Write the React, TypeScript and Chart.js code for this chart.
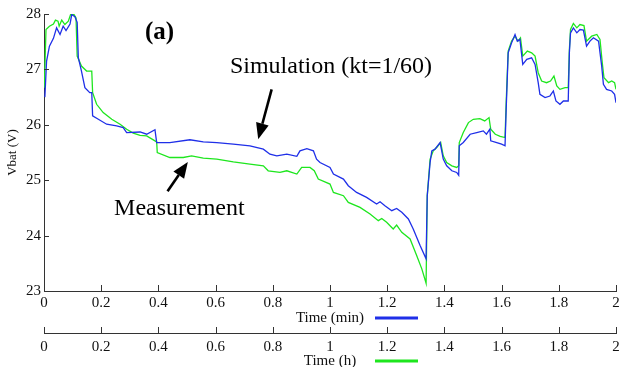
import { useEffect, useRef } from 'react';
import { Chart, registerables } from 'chart.js';

Chart.register(...registerables);

// Simulation (kt=1/60) — plotted against Time (min)
const simTime = [
  0.003, 0.009, 0.019, 0.033, 0.044, 0.056, 0.067, 0.077, 0.091, 0.097, 0.108, 0.116, 0.12, 0.131, 0.143, 0.16,
  0.167, 0.17, 0.19, 0.219, 0.254, 0.277, 0.289, 0.336, 0.359, 0.388, 0.394, 0.44, 0.51, 0.557, 0.604, 0.662,
  0.72, 0.767, 0.79, 0.814, 0.849, 0.884, 0.895, 0.919, 0.942, 0.953, 0.965, 1.0, 1.012, 1.047, 1.064, 1.093,
  1.128, 1.163, 1.175, 1.192, 1.216, 1.233, 1.251, 1.274, 1.291, 1.315, 1.336, 1.34, 1.35, 1.356, 1.367, 1.385,
  1.396, 1.408, 1.426, 1.443, 1.45, 1.452, 1.466, 1.49, 1.513, 1.536, 1.547, 1.559, 1.562, 1.583, 1.6, 1.612,
  1.616, 1.623, 1.635, 1.647, 1.655, 1.664, 1.674, 1.688, 1.705, 1.717, 1.728, 1.734, 1.752, 1.769, 1.781, 1.79,
  1.804, 1.816, 1.833, 1.837, 1.841, 1.851, 1.863, 1.874, 1.886, 1.897, 1.909, 1.921, 1.939, 1.95, 1.956, 1.967,
  1.985, 1.995, 2.0,
];
const simVolt = [
  26.5, 27.15, 27.42, 27.56, 27.75, 27.63, 27.78, 27.7, 27.82, 27.99, 27.95, 27.85, 27.21, 26.97, 26.67, 26.58,
  26.58, 26.16, 26.1, 26.01, 25.98, 25.95, 25.86, 25.87, 25.83, 25.91, 25.68, 25.68, 25.73, 25.69, 25.68, 25.65,
  25.62, 25.56, 25.47, 25.44, 25.47, 25.43, 25.53, 25.57, 25.53, 25.38, 25.32, 25.23, 25.11, 25.02, 24.9, 24.78,
  24.69, 24.57, 24.61, 24.54, 24.45, 24.49, 24.42, 24.3, 24.12, 23.82, 23.58, 24.72, 25.32, 25.53, 25.56, 25.68,
  25.38, 25.26, 25.17, 25.14, 25.09, 25.62, 25.68, 25.83, 25.86, 25.89, 25.83, 25.92, 25.71, 25.68, 25.65, 25.62,
  26.28, 27.3, 27.48, 27.63, 27.51, 27.54, 27.09, 27.18, 27.21, 27.09, 26.76, 26.55, 26.49, 26.52, 26.61, 26.43,
  26.37, 26.43, 26.43, 27.3, 27.66, 27.75, 27.66, 27.72, 27.71, 27.42, 27.51, 27.57, 27.51, 27.06, 26.73, 26.64,
  26.61, 26.55, 26.4,
];

// Measurement — plotted against Time (h)
const measTime = [
  0.001, 0.007, 0.019, 0.033, 0.04, 0.049, 0.053, 0.062, 0.073, 0.085, 0.093, 0.105, 0.112, 0.116, 0.131, 0.149,
  0.167, 0.17, 0.184, 0.207, 0.237, 0.266, 0.289, 0.312, 0.336, 0.359, 0.388, 0.394, 0.396, 0.44, 0.487, 0.516,
  0.557, 0.604, 0.662, 0.72, 0.767, 0.784, 0.825, 0.849, 0.884, 0.901, 0.93, 0.945, 0.959, 1.0, 1.012, 1.047,
  1.064, 1.105, 1.14, 1.169, 1.181, 1.198, 1.221, 1.233, 1.251, 1.28, 1.303, 1.321, 1.336, 1.34, 1.35, 1.361,
  1.373, 1.387, 1.396, 1.408, 1.426, 1.443, 1.45, 1.452, 1.466, 1.484, 1.501, 1.524, 1.541, 1.556, 1.562, 1.578,
  1.595, 1.612, 1.616, 1.623, 1.635, 1.647, 1.657, 1.666, 1.674, 1.69, 1.705, 1.717, 1.728, 1.74, 1.757, 1.771,
  1.783, 1.793, 1.804, 1.822, 1.833, 1.837, 1.841, 1.851, 1.863, 1.874, 1.888, 1.897, 1.915, 1.933, 1.944, 1.952,
  1.958, 1.974, 1.985, 1.995, 2.0,
];
const measVolt = [
  26.67, 27.72, 27.78, 27.82, 27.89, 27.87, 27.78, 27.89, 27.81, 27.87, 27.99, 27.99, 27.93, 27.24, 27.06, 26.97,
  26.97, 26.58, 26.37, 26.22, 26.1, 26.01, 25.92, 25.85, 25.81, 25.8, 25.71, 25.69, 25.5, 25.41, 25.41, 25.44,
  25.4, 25.38, 25.33, 25.29, 25.26, 25.17, 25.14, 25.17, 25.11, 25.23, 25.23, 25.17, 25.02, 24.93, 24.78, 24.72,
  24.6, 24.51, 24.39, 24.27, 24.31, 24.24, 24.12, 24.19, 24.06, 23.94, 23.64, 23.4, 23.14, 24.72, 25.38, 25.53,
  25.59, 25.68, 25.44, 25.32, 25.26, 25.23, 25.26, 25.68, 25.86, 26.04, 26.1, 26.11, 26.07, 26.13, 25.92, 25.83,
  25.79, 25.77, 26.4, 27.33, 27.51, 27.6, 27.51, 27.57, 27.24, 27.33, 27.3, 27.24, 26.94, 26.79, 26.76, 26.79,
  26.88, 26.7, 26.64, 26.67, 26.67, 27.36, 27.72, 27.83, 27.75, 27.81, 27.79, 27.51, 27.6, 27.63, 27.54, 27.12,
  26.85, 26.76, 26.79, 26.76, 26.64,
];

const xRange = [0, 2];
const xStep = 0.2;
const yRange = [23, 28];
const yStep = 1;
const xTitleMin = 'Time (min)';
const xTitleHour = 'Time (h)';
const yTitle = 'Vbat (V)';

// annotations in data coordinates [time, volt]
const panelLabel = { text: '(a)', at: [0.353, 27.55] };
const simLabel = { text: 'Simulation (kt=1/60)', at: [0.65, 26.93], arrowFrom: [0.796, 26.64], arrowTo: [0.749, 25.74] };
const measLabel = { text: 'Measurement', at: [0.245, 24.37], arrowFrom: [0.432, 24.8], arrowTo: [0.503, 25.33] };

const SIM_COLOR = '#1f2fe8';
const MEAS_COLOR = '#1ee61e';
const SERIF = "'Liberation Serif', 'Times New Roman', serif";
const AXIS_COLOR = '#333';

const fmt = (v: number) => String(Math.round(v * 10) / 10);

const decorPlugin = {
  id: 'decor',
  afterDraw(chart: any) {
    const ctx = chart.ctx as CanvasRenderingContext2D;
    const { x, x2, y } = chart.scales;
    const area = chart.chartArea;
    ctx.save();
    ctx.strokeStyle = AXIS_COLOR;
    ctx.lineWidth = 1;
    // inward tick marks
    y.ticks.forEach((t: any) => {
      const py = Math.round(y.getPixelForValue(t.value)) + 0.5;
      ctx.beginPath();
      ctx.moveTo(area.left, py);
      ctx.lineTo(area.left + 5, py);
      ctx.stroke();
    });
    x.ticks.forEach((t: any) => {
      const px = Math.round(x.getPixelForValue(t.value)) + 0.5;
      ctx.beginPath();
      ctx.moveTo(px, area.bottom);
      ctx.lineTo(px, area.bottom - 6);
      ctx.stroke();
    });
    x2.ticks.forEach((t: any) => {
      const px = Math.round(x2.getPixelForValue(t.value)) + 0.5;
      ctx.beginPath();
      ctx.moveTo(px, x2.top);
      ctx.lineTo(px, x2.top - 6);
      ctx.stroke();
    });

    // legend segments next to the axis titles
    const cx = (area.left + area.right) / 2;
    const seg = (sy: number, color: string) => {
      ctx.strokeStyle = color;
      ctx.lineWidth = 3;
      ctx.beginPath();
      ctx.moveTo(cx + 45, sy);
      ctx.lineTo(cx + 88, sy);
      ctx.stroke();
    };
    seg(x.bottom - 15, SIM_COLOR);
    seg(x2.bottom - 6, MEAS_COLOR);

    // annotation texts
    const P = (p: number[]) => [x.getPixelForValue(p[0]), y.getPixelForValue(p[1])];
    ctx.fillStyle = '#000';
    ctx.textBaseline = 'alphabetic';
    ctx.textAlign = 'left';
    ctx.font = `bold 25px ${SERIF}`;
    let q = P(panelLabel.at);
    ctx.fillText(panelLabel.text, q[0], q[1]);
    ctx.font = `24px ${SERIF}`;
    q = P(simLabel.at);
    ctx.fillText(simLabel.text, q[0], q[1]);
    q = P(measLabel.at);
    ctx.fillText(measLabel.text, q[0], q[1]);

    const arrow = (from: number[], to: number[]) => {
      const a = P(from);
      const b = P(to);
      const ang = Math.atan2(b[1] - a[1], b[0] - a[0]);
      const hl = 16;
      const hw = 6.5;
      const bx = b[0] - hl * Math.cos(ang);
      const by = b[1] - hl * Math.sin(ang);
      ctx.strokeStyle = '#000';
      ctx.lineWidth = 2.6;
      ctx.beginPath();
      ctx.moveTo(a[0], a[1]);
      ctx.lineTo(bx, by);
      ctx.stroke();
      ctx.fillStyle = '#000';
      ctx.beginPath();
      ctx.moveTo(b[0], b[1]);
      ctx.lineTo(bx + hw * Math.sin(ang), by - hw * Math.cos(ang));
      ctx.lineTo(bx - hw * Math.sin(ang), by + hw * Math.cos(ang));
      ctx.closePath();
      ctx.fill();
    };
    arrow(simLabel.arrowFrom, simLabel.arrowTo);
    arrow(measLabel.arrowFrom, measLabel.arrowTo);
    ctx.restore();
  },
};

export default function App() {
  const ref = useRef<HTMLCanvasElement>(null);
  useEffect(() => {
    if (!ref.current) return;
    const simData = simTime.map((t, i) => ({ x: t, y: simVolt[i] }));
    const measData = measTime.map((t, i) => ({ x: t, y: measVolt[i] }));
    const tickFont = { family: SERIF, size: 15 };
    const fitX = (h: number) => (s: any) => {
      s.height = h;
      s.paddingRight = 4;
      s.paddingLeft = 0;
    };
    const chart = new Chart(ref.current, {
      type: 'line',
      data: {
        datasets: [
          {
            label: 'Simulation (kt=1/60)',
            data: simData,
            xAxisID: 'x',
            yAxisID: 'y',
            borderColor: SIM_COLOR,
            borderWidth: 1.3,
            pointRadius: 0,
            tension: 0,
          },
          {
            label: 'Measurement',
            data: measData,
            xAxisID: 'x2',
            yAxisID: 'y',
            borderColor: MEAS_COLOR,
            borderWidth: 1.3,
            pointRadius: 0,
            tension: 0,
          },
        ],
      },
      options: {
        responsive: false,
        animation: false,
        parsing: false as any,
        layout: { padding: { top: 14, right: 0, left: 0, bottom: 0 } },
        plugins: { legend: { display: false }, tooltip: { enabled: false } },
        scales: {
          x: {
            type: 'linear',
            position: 'bottom',
            weight: 0,
            min: xRange[0],
            max: xRange[1],
            grid: { display: false, drawTicks: false },
            border: { display: true, color: AXIS_COLOR, width: 1 },
            ticks: { stepSize: xStep, font: tickFont, color: '#111', padding: 3, maxRotation: 0, callback: (v: any) => fmt(v) },
            title: { display: true, text: xTitleMin, font: { family: SERIF, size: 15, lineHeight: 1 }, color: '#111', padding: { top: 0, bottom: 7 } },
            afterFit: fitX(42),
          },
          x2: {
            type: 'linear',
            position: 'bottom',
            weight: 1,
            min: xRange[0],
            max: xRange[1],
            grid: { display: false, drawTicks: false },
            border: { display: true, color: AXIS_COLOR, width: 1 },
            ticks: { stepSize: xStep, font: tickFont, color: '#111', padding: 5, maxRotation: 0, callback: (v: any) => fmt(v) },
            title: { display: true, text: xTitleHour, font: { family: SERIF, size: 15, lineHeight: 1 }, color: '#111', padding: { top: 0, bottom: -2 } },
            afterFit: fitX(34),
          },
          y: {
            type: 'linear',
            position: 'left',
            min: yRange[0],
            max: yRange[1],
            grid: { display: false, drawTicks: false },
            border: { display: true, color: AXIS_COLOR, width: 1 },
            ticks: { stepSize: yStep, font: tickFont, color: '#111', padding: 3 },
            title: { display: true, text: yTitle, font: { family: SERIF, size: 13, lineHeight: 1.2 }, color: '#111', padding: { top: 5, bottom: 0 } },
            afterFit: (s: any) => { s.width = 44; },
          },
        },
      },
      plugins: [decorPlugin],
    });
    return () => chart.destroy();
  }, []);
  return (
    <div style={{ position: 'absolute', left: 0, top: 0, width: 620, height: 367, background: '#fff' }}>
      <canvas ref={ref} width={620} height={367} style={{ display: 'block' }} />
    </div>
  );
}
